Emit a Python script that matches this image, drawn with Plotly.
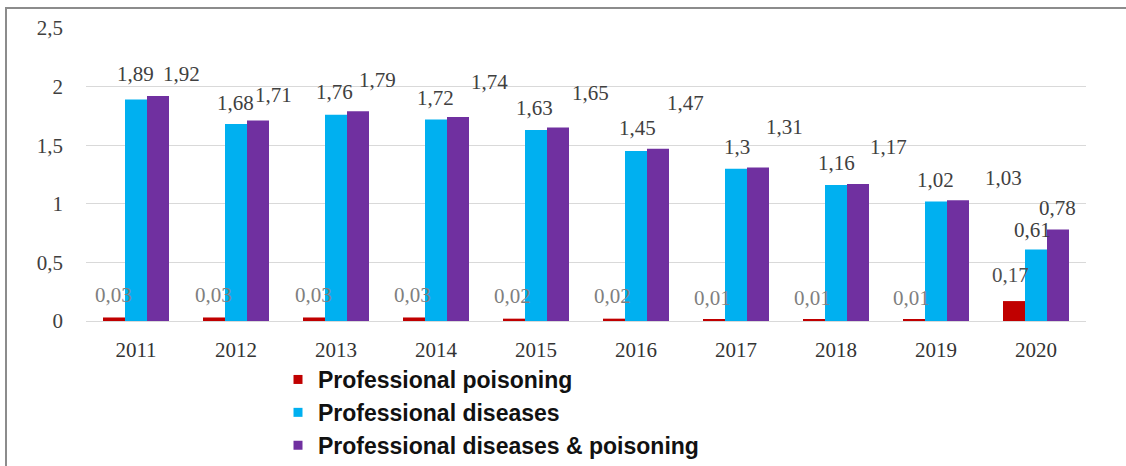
import plotly.graph_objects as go

# Categories and series values
years = ["2011", "2012", "2013", "2014", "2015", "2016", "2017", "2018", "2019", "2020"]
poisoning = [0.03, 0.03, 0.03, 0.03, 0.02, 0.02, 0.01, 0.01, 0.01, 0.17]
diseases = [1.89, 1.68, 1.76, 1.72, 1.63, 1.45, 1.30, 1.16, 1.02, 0.61]
combined = [1.92, 1.71, 1.79, 1.74, 1.65, 1.47, 1.31, 1.17, 1.03, 0.78]

series_names = ["Professional poisoning", "Professional diseases", "Professional diseases & poisoning"]
y_ticks = [0, 0.5, 1, 1.5, 2, 2.5]

# Styling
colors = ["#c00000", "#00b0f0", "#7030a0"]
W, H = 1126, 466
ML, MR, MT, MB = 86, 40, 28, 145
PLOT_W, PLOT_H = W - ML - MR, H - MT - MB
SERIF = "Liberation Serif, Times New Roman, serif"

# Data-label placement (pixel offsets relative to the top centre of each bar)
bar_offset = [-22, 0, 22]
label_dx = [
    [-1, -1, -1, -2, -2, -2, -2, -2, -3, -4],
    [-1, -1, -2, -1, -2, 1, 1, 0, -1, -4],
    [23, 15, 19, 31, 32, 27, 26, 30, 45, -1],
]
label_dy = [
    [22, 22, 22, 22, 23, 23, 22, 22, 22, 26],
    [25, 21, 23, 21, 22, 23, 22, 22, 21, 20],
    [22, 26, 31, 35, 35, 46, 40, 37, 22, 22],
]
label_colors = ["#7f7f7f", "#404040", "#404040"]


def fmt(v):
    return f"{v:g}".replace(".", ",")


fig = go.Figure()
all_series = [poisoning, diseases, combined]
for name, vals, col in zip(series_names, all_series, colors):
    fig.add_trace(go.Bar(x=years, y=vals, name=name, marker=dict(color=col, line=dict(width=0)),
                         showlegend=False))

# Legend entries with small square swatches
for name, col in zip(series_names, colors):
    fig.add_trace(go.Scatter(x=[None], y=[None], mode="markers", name=name,
                             marker=dict(symbol="square", size=9, color=col)))

for s, vals in enumerate(all_series):
    for i, v in enumerate(vals):
        c = label_colors[s]
        if s == 0 and v > 0.1:
            c = "#505050"
        fig.add_annotation(
            x=i, y=v, xref="x", yref="y", text=fmt(v), showarrow=False,
            xanchor="center", yanchor="middle",
            xshift=bar_offset[s] + label_dx[s][i], yshift=label_dy[s][i],
            font=dict(family=SERIF, size=21, color=c),
        )

# Outer frame: top and left edges
px2x = lambda px: (px - ML) / PLOT_W
px2y = lambda py: (H - MB - py) / PLOT_H
frame = dict(color="#8c8c8c", width=2)
fig.add_shape(type="line", xref="paper", yref="paper",
              x0=px2x(5), x1=px2x(W + 5), y0=px2y(8), y1=px2y(8), line=frame)
fig.add_shape(type="line", xref="paper", yref="paper",
              x0=px2x(6), x1=px2x(6), y0=px2y(7), y1=px2y(H + 5), line=frame)

fig.update_layout(
    width=W, height=H,
    margin=dict(l=ML, r=MR, t=MT, b=MB, pad=0, autoexpand=False),
    paper_bgcolor="white", plot_bgcolor="white",
    barmode="group", bargap=0.34, bargroupgap=0,
    separators=",.",
    showlegend=True,
    legend=dict(
        x=px2x(278), y=px2y(358), xanchor="left", yanchor="top",
        orientation="v", bgcolor="rgba(0,0,0,0)", borderwidth=0,
        font=dict(family="Liberation Sans, Arial, sans-serif", size=23, color="#111111", weight="bold"),
        tracegroupgap=0,
    ),
    xaxis=dict(
        type="category", range=[-0.5, len(years) - 0.5],
        showgrid=False, showline=False, zeroline=False, ticks="",
        tickfont=dict(family=SERIF, size=21, color="#333333"),
        ticklabelstandoff=14,
    ),
    yaxis=dict(
        range=[0, 2.5], tickvals=y_ticks, ticktext=[fmt(t) for t in y_ticks],
        showgrid=True, gridcolor="#d9d9d9", gridwidth=1,
        zeroline=True, zerolinecolor="#d9d9d9", zerolinewidth=1,
        showline=False, ticks="",
        tickfont=dict(family=SERIF, size=21, color="#404040"),
        ticklabelstandoff=22,
    ),
    font=dict(family=SERIF),
)

fig.write_html("out.html")
